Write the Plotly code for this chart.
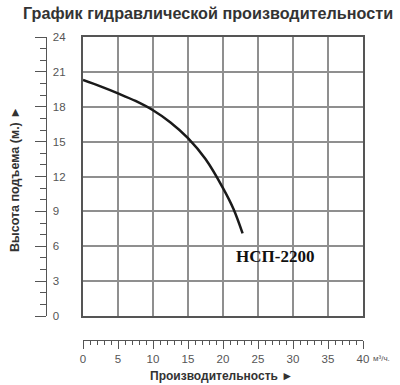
import plotly.graph_objects as go

# Data
flow = [0, 2.5, 5, 7.5, 10, 12.5, 15, 17.5, 20, 21.5, 22.8]
head = [20.3, 19.75, 19.15, 18.5, 17.7, 16.65, 15.3, 13.5, 11.0, 9.2, 7.1]
model_name = "НСП-2200"
title_text = "График гидравлической производительности"
x_title = "Производительность ►"
y_title = "Высота подъема (м.) ►"
x_unit = "м³/ч."

fig = go.Figure()
fig.add_trace(go.Scatter(x=flow, y=head, mode="lines", line=dict(color="#1a1a1a", width=2.5, shape="spline"),
                         hoverinfo="skip", showlegend=False))
# dummy traces for ruler axes
fig.add_trace(go.Scatter(x=[None], y=[None], xaxis="x2", yaxis="y", showlegend=False, hoverinfo="skip"))
fig.add_trace(go.Scatter(x=[None], y=[None], xaxis="x", yaxis="y2", showlegend=False, hoverinfo="skip"))

OFF = 0  # page body margin removed via post_script
W, H = 400, 385
ml = 46 - OFF
mt = 37 - OFF
mr = W - (363 - OFF)
mb = H - (340 - OFF)
pw = W - ml - mr
ph = H - mt - mb


def px(xp):
    return (xp - OFF - ml) / pw


def py(yp):
    return 1 - (yp - OFF - mt) / ph


xd0 = px(83)
yd0 = py(316)

grid_col = "#8f8f8f"
fig.update_layout(
    width=W, height=H,
    margin=dict(l=ml, r=mr, t=mt, b=mb, autoexpand=False),
    plot_bgcolor="white", paper_bgcolor="white",
    font=dict(family="Liberation Sans, Arial, sans-serif", color="#555"),
    xaxis=dict(domain=[xd0, 1], range=[0, 40], dtick=5, showgrid=True, gridcolor=grid_col, gridwidth=1.5,
               showticklabels=False, ticks="", showline=True, linecolor="#555", linewidth=1.5, mirror=True,
               zeroline=False, anchor="y", fixedrange=True),
    yaxis=dict(domain=[yd0, 1], range=[0, 24], dtick=3, showgrid=True, gridcolor=grid_col, gridwidth=1.5,
               showticklabels=False, ticks="", showline=True, linecolor="#555", linewidth=1.5, mirror=True,
               zeroline=False, anchor="x", fixedrange=True),
    xaxis2=dict(domain=[xd0, 1], range=[0, 40], dtick=5, anchor="free", position=0, overlaying="x",
                side="bottom", showgrid=False, zeroline=False, showline=True, linecolor="#555", linewidth=1.2,
                ticks="outside", ticklen=8, tickwidth=1.2, tickcolor="#555",
                minor=dict(dtick=1, ticklen=4, tickwidth=1, tickcolor="#555", ticks="outside", showgrid=False),
                tickfont=dict(size=11.5, color="#555"), fixedrange=True),
    yaxis2=dict(domain=[yd0, 1], range=[0, 24], dtick=3, anchor="free", position=0, overlaying="y",
                side="left", showgrid=False, zeroline=False, showline=True, linecolor="#555", linewidth=1.2,
                ticks="outside", ticklen=11, tickwidth=1.2, tickcolor="#555", ticklabelposition="inside",
                ticklabeloverflow="allow", ticklabelstandoff=5,
                minor=dict(dtick=1, ticklen=6, tickwidth=1, tickcolor="#555", ticks="outside", showgrid=False),
                tickfont=dict(size=11.5, color="#555"), fixedrange=True),
)

fig.add_annotation(text="<b>" + title_text + "</b>", xref="paper", yref="paper", x=px(208), y=py(13),
                   showarrow=False, xanchor="center", yanchor="middle",
                   font=dict(size=16.2, color="#333", family="Liberation Sans, Arial, sans-serif"))
fig.add_annotation(text="<b>" + model_name + "</b>", x=27.4, y=5.1, xref="x", yref="y", showarrow=False,
                   xanchor="center", yanchor="middle",
                   font=dict(size=17, color="#111", family="Liberation Serif, Times New Roman, serif"))
fig.add_annotation(text="<b>" + x_title + "</b>", xref="paper", yref="paper", x=px(221), y=py(376),
                   showarrow=False, xanchor="center", yanchor="middle",
                   font=dict(size=12, color="#333"))
fig.add_annotation(text="<b>" + y_title + "</b>", xref="paper", yref="paper", x=px(15), y=py(179),
                   showarrow=False, xanchor="center", yanchor="middle", textangle=-90,
                   font=dict(size=12.5, color="#333"))
fig.add_annotation(text=x_unit, xref="paper", yref="paper", x=px(371), y=py(358),
                   showarrow=False, xanchor="left", yanchor="middle",
                   font=dict(size=8, color="#555"))

fig.write_html("out.html", config={"displayModeBar": False},
               post_script="document.body.style.margin='0';")
